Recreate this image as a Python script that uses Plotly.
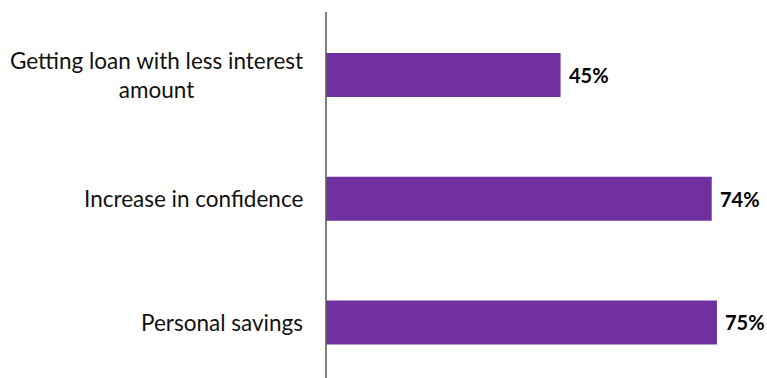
import plotly.graph_objects as go

categories = ["Getting loan with less interest<br>amount", "Increase in confidence", "Personal savings"]
values = [45, 74, 75]
value_labels = ["45%", "74%", "75%"]

BAR_COLOR = "#7030A0"
FONT = "Lato"

fig = go.Figure(
    go.Bar(
        x=values,
        y=list(range(len(categories))),
        orientation="h",
        marker=dict(color=BAR_COLOR, line=dict(width=0)),
        width=0.356,
        hoverinfo="skip",
    )
)

# value labels just past each bar end
for i, (v, t) in enumerate(zip(values, value_labels)):
    fig.add_annotation(
        x=v, y=i, xref="x", yref="y", text=f"<b>{t}</b>",
        showarrow=False, xanchor="left", yanchor="middle", xshift=6,
        font=dict(family=FONT, size=20, color="#000000"),
    )

# category labels with centred lines, right-aligned against the axis
for i, c in enumerate(categories):
    fig.add_annotation(
        x=0, y=i, xref="paper", yref="y", text=c,
        showarrow=False, xanchor="right", yanchor="middle", xshift=-21,
        align="center",
        font=dict(family=FONT, size=22.5, color="#111111"),
    )

fig.update_layout(
    width=767, height=378,
    margin=dict(l=326, r=0, t=12, b=0),
    paper_bgcolor="white", plot_bgcolor="white",
    showlegend=False,
    xaxis=dict(range=[0, 84.6], visible=False, fixedrange=True),
    yaxis=dict(
        range=[2.449, -0.509], showticklabels=False, showgrid=False,
        zeroline=False, ticks="", showline=False, fixedrange=True,
    ),
    shapes=[dict(type="line", xref="paper", yref="paper", x0=0, x1=0, y0=0, y1=1,
                 line=dict(color="#595959", width=1.5))],
)

fig.write_html("out.html")
